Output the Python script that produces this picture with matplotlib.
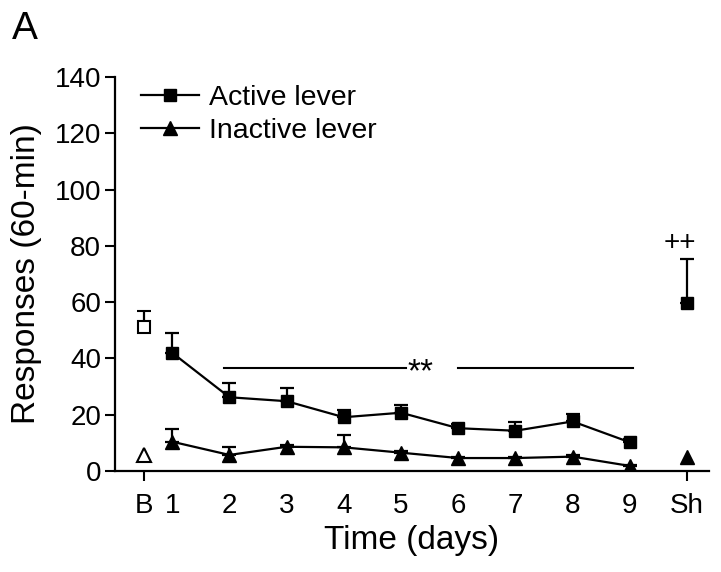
import matplotlib
matplotlib.use("Agg")
import matplotlib.pyplot as plt
import numpy as np

plt.rcParams["font.family"] = "Liberation Sans"

days = [1, 2, 3, 4, 5, 6, 7, 8, 9]
active = [42.0, 26.2, 24.8, 19.1, 20.7, 15.2, 14.3, 17.6, 10.2]
active_err = [7.0, 5.2, 4.7, 2.6, 2.7, 1.5, 3.0, 2.8, 1.0]
inactive = [10.4, 5.7, 8.6, 8.4, 6.5, 4.6, 4.6, 5.1, 1.8]
inactive_err = [4.6, 2.8, 0.8, 4.4, 0.6, 0.4, 0.4, 0.5, 0.3]

base_x, base_active, base_active_err = 0.5, 51.3, 5.5
base_inactive = 5.7
sham_x, sham_active, sham_active_err = 10, 59.8, 15.5
sham_inactive = 5.1

tick_pos = [0.5, 1, 2, 3, 4, 5, 6, 7, 8, 9, 10]
tick_labels = ["B", "1", "2", "3", "4", "5", "6", "7", "8", "9", "Sh"]

fig = plt.figure(figsize=(7.21, 5.72), dpi=100)
ax = fig.add_axes([0.1595, 0.1766, 0.8235, 0.6888])

lw = 1.6
ax.errorbar(days, active, yerr=[np.zeros(len(days)), active_err], color="black",
            marker="s", markersize=8.6, linewidth=lw, capsize=4.7, elinewidth=lw,
            capthick=lw, label="Active lever", zorder=3)
ax.errorbar(days, inactive, yerr=[np.zeros(len(days)), inactive_err], color="black",
            marker="^", markersize=9.5, linewidth=lw, capsize=4.7, elinewidth=lw,
            capthick=lw, label="Inactive lever", zorder=3)

# baseline (open symbols)
ax.errorbar([base_x], [base_active], yerr=[[0], [base_active_err]], color="black",
            marker="s", markersize=8.6, markerfacecolor="white", markeredgewidth=1.5,
            capsize=4.7, elinewidth=lw, capthick=lw, linestyle="none")
ax.plot([base_x], [base_inactive], marker="^", markersize=9.5, color="black",
        markerfacecolor="white", markeredgewidth=1.5, linestyle="none")

# sham
ax.errorbar([sham_x], [sham_active], yerr=[[0], [sham_active_err]], color="black",
            marker="s", markersize=8.6, capsize=4.7, elinewidth=lw, capthick=lw,
            linestyle="none")
ax.plot([sham_x], [sham_inactive], marker="^", markersize=9.5, color="black",
        linestyle="none")

# significance line
ax.plot([1.9, 5.08], [36.5, 36.5], color="black", linewidth=1.5)
ax.plot([6.0, 9.05], [36.5, 36.5], color="black", linewidth=1.5)
ax.text(5.34, 35.0, "**", ha="center", va="center", fontsize=24)
ax.text(9.88, 81.0, "++", ha="center", va="center", fontsize=20)

ax.set_xlim(0, 10.38)
ax.set_ylim(0, 140)
ax.set_yticks(np.arange(0, 141, 20))
ax.set_xticks(tick_pos)
ax.set_xticklabels(tick_labels)
for t in ax.xaxis.get_major_ticks()[1:-1]:
    t.tick1line.set_visible(False)
ax.tick_params(axis="x", length=7, width=1.5, pad=9, labelsize=20)
ax.tick_params(axis="y", length=7, width=1.5, labelsize=20, pad=3)

for s in ["top", "right"]:
    ax.spines[s].set_visible(False)
for s in ["left", "bottom"]:
    ax.spines[s].set_linewidth(1.6)

ax.set_xlabel("Time (days)", fontsize=24, labelpad=4)
ax.set_ylabel("Responses (60-min)", fontsize=24, labelpad=9)

handles, labels = ax.get_legend_handles_labels()
handles = [h[0] for h in handles]
ax.legend(handles, labels, loc="upper left", bbox_to_anchor=(0.0, 1.045),
          frameon=False, fontsize=20.5, handlelength=2.05, handletextpad=0.35,
          labelspacing=0.25)

fig.text(0.016, 0.98, "A", fontsize=28, va="top", ha="left")

fig.savefig("out.png", dpi=100)
